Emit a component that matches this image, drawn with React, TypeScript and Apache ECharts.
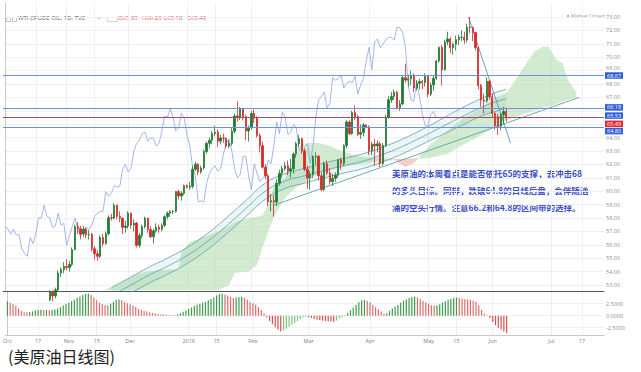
import React, { useEffect, useRef } from "react";
import * as echarts from "echarts";

// Daily bars, index 0 = 2 Oct 2017 ... index 179 = 8 Jun 2018 : [open, high, low, close]
const candles: number[][] = [
  [51.67, 51.9, 50.3, 50.58], [50.58, 50.9, 50.0, 50.42], [50.42, 50.6, 49.6, 49.98], [49.98, 51.0, 49.8, 50.79],
  [50.79, 50.9, 49.1, 49.29], [49.29, 49.8, 49.1, 49.58], [49.58, 51.0, 49.5, 50.92], [50.92, 51.6, 50.8, 51.3],
  [51.3, 51.4, 50.4, 50.6], [50.6, 51.6, 50.5, 51.45], [51.45, 52.2, 51.3, 51.87], [51.87, 52.1, 51.5, 51.88],
  [51.88, 52.3, 51.6, 52.04], [52.04, 52.1, 51.0, 51.29], [51.29, 52.0, 51.1, 51.84], [51.84, 52.1, 51.6, 51.9],
  [51.9, 52.6, 51.8, 52.47], [52.47, 52.6, 51.8, 52.18], [52.18, 52.8, 52.0, 52.64], [52.64, 54.1, 52.5, 53.9],
  [53.9, 54.3, 53.6, 54.15], [54.15, 54.7, 53.9, 54.38], [54.38, 54.9, 54.1, 54.3], [54.3, 54.8, 54.0, 54.54],
  [54.54, 55.8, 54.4, 55.64], [55.64, 57.5, 55.6, 57.35], [57.35, 57.7, 56.8, 57.2], [57.2, 57.4, 56.4, 56.81],
  [56.81, 57.4, 56.6, 57.17], [57.17, 57.3, 56.5, 56.74], [56.74, 57.1, 56.4, 56.76], [56.76, 56.9, 55.5, 55.7],
  [55.7, 55.9, 54.9, 55.33], [55.33, 55.6, 54.8, 55.14], [55.14, 56.7, 55.0, 56.55], [56.55, 56.8, 55.9, 56.09],
  [56.09, 57.0, 56.0, 56.83], [56.83, 58.2, 56.7, 58.02], [58.02, 58.3, 57.8, 58.0], [58.0, 59.1, 57.9, 58.95],
  [58.95, 59.0, 57.9, 58.11], [58.11, 58.5, 57.7, 57.99], [57.99, 58.0, 56.8, 57.3], [57.3, 57.8, 56.9, 57.4],
  [57.4, 58.5, 57.2, 58.36], [58.36, 58.4, 57.2, 57.47], [57.47, 57.9, 57.0, 57.62], [57.62, 57.7, 55.8, 55.96],
  [55.96, 56.9, 55.8, 56.69], [56.69, 57.5, 56.5, 57.36], [57.36, 58.1, 57.2, 57.99], [57.99, 58.0, 56.9, 57.14],
  [57.14, 57.4, 56.5, 56.6], [56.6, 57.2, 56.1, 57.04], [57.04, 57.6, 56.9, 57.3], [57.3, 57.5, 56.9, 57.16],
  [57.16, 57.6, 57.0, 57.46], [57.46, 58.2, 57.3, 58.09], [58.09, 58.5, 57.9, 58.36], [58.36, 58.6, 58.1, 58.47],
  [58.47, 58.6, 58.3, 58.5], [58.5, 60.0, 58.4, 59.97], [59.97, 60.1, 59.4, 59.64], [59.64, 60.0, 59.3, 59.84],
  [59.84, 60.5, 59.7, 60.42], [60.42, 60.5, 60.2, 60.3], [60.3, 60.7, 60.1, 60.37], [60.37, 61.9, 60.2, 61.63],
  [61.63, 62.2, 61.5, 62.01], [62.01, 62.1, 61.2, 61.44], [61.44, 61.9, 61.3, 61.73], [61.73, 63.1, 61.6, 62.96],
  [62.96, 63.7, 62.8, 63.57], [63.57, 64.0, 63.2, 63.8], [63.8, 64.5, 63.5, 64.3], [64.3, 64.9, 64.1, 64.4],
  [64.4, 64.6, 63.3, 63.73], [63.73, 64.2, 63.5, 63.97], [63.97, 64.3, 63.6, 63.95], [63.95, 64.0, 63.2, 63.37],
  [63.37, 63.8, 63.2, 63.57], [63.57, 64.7, 63.4, 64.47], [64.47, 65.8, 64.3, 65.61], [65.61, 66.7, 65.2, 65.51],
  [65.51, 66.3, 65.3, 66.14], [66.14, 66.2, 65.3, 65.56], [65.56, 65.7, 63.8, 64.5], [64.5, 64.9, 63.7, 64.73],
  [64.73, 66.0, 64.6, 65.8], [65.8, 66.1, 65.1, 65.45], [65.45, 65.6, 64.0, 64.15], [64.15, 64.3, 62.9, 63.39],
  [63.39, 63.7, 61.7, 61.79], [61.79, 62.0, 60.9, 61.15], [61.15, 61.3, 58.9, 59.2], [59.2, 59.8, 58.5, 59.29],
  [59.29, 59.7, 58.1, 59.19], [59.19, 60.9, 58.9, 60.6], [60.6, 61.6, 60.4, 61.34], [61.34, 61.9, 61.0, 61.68],
  [61.68, 62.2, 61.5, 61.9], [61.9, 62.3, 61.2, 61.5], [61.5, 62.4, 61.0, 61.68], [61.68, 62.9, 61.3, 62.77],
  [62.77, 63.7, 62.5, 63.55], [63.55, 64.2, 63.3, 63.91], [63.91, 64.0, 62.8, 63.01], [63.01, 63.2, 61.5, 61.64],
  [61.64, 61.9, 60.2, 60.99], [60.99, 61.5, 60.1, 61.25], [61.25, 62.7, 61.0, 62.57], [62.57, 62.9, 62.0, 62.6],
  [62.6, 62.7, 60.8, 61.15], [61.15, 61.4, 60.0, 60.12], [60.12, 62.2, 60.0, 62.04], [62.04, 62.3, 61.2, 61.36],
  [61.36, 61.7, 60.5, 60.71], [60.71, 61.3, 60.4, 60.96], [60.96, 61.4, 60.7, 61.19], [61.19, 62.4, 61.0, 62.34],
  [62.34, 62.5, 61.6, 62.06], [62.06, 63.5, 61.9, 63.4], [63.4, 65.3, 63.2, 65.17], [65.17, 65.3, 64.2, 64.3],
  [64.3, 66.0, 64.2, 65.88], [65.88, 66.4, 65.3, 65.55], [65.55, 65.7, 64.1, 64.25], [64.25, 65.0, 63.9, 64.38],
  [64.38, 65.1, 64.1, 64.94], [64.94, 65.0, 64.7, 64.8], [64.8, 64.9, 62.7, 63.01], [63.01, 63.7, 62.7, 63.51],
  [63.51, 63.9, 61.9, 63.37], [63.37, 63.8, 62.9, 63.54], [63.54, 63.7, 61.8, 62.06], [62.06, 63.6, 61.9, 63.42],
  [63.42, 65.7, 63.3, 65.51], [65.51, 67.1, 65.4, 66.82], [66.82, 67.4, 66.6, 67.07], [67.07, 67.6, 66.8, 67.39],
  [67.39, 67.5, 66.1, 66.22], [66.22, 66.8, 66.0, 66.52], [66.52, 68.6, 66.4, 68.47], [68.47, 69.5, 68.1, 68.29],
  [68.29, 68.7, 67.8, 68.38], [68.38, 69.0, 67.9, 68.64], [68.64, 68.8, 67.4, 67.7], [67.7, 68.3, 67.5, 68.05],
  [68.05, 68.4, 67.6, 68.19], [68.19, 68.3, 67.6, 68.1], [68.1, 68.8, 67.8, 68.57], [68.57, 68.6, 67.0, 67.25],
  [67.25, 68.1, 67.1, 67.93], [67.93, 68.6, 67.5, 68.43], [68.43, 69.8, 68.3, 69.72], [69.72, 70.8, 69.6, 70.73],
  [70.73, 70.9, 67.9, 69.06], [69.06, 71.3, 69.0, 71.14], [71.14, 71.9, 70.9, 71.36], [71.36, 71.5, 70.3, 70.7],
  [70.7, 71.1, 70.2, 70.96], [70.96, 71.6, 70.5, 71.31], [71.31, 71.7, 70.9, 71.49], [71.49, 72.0, 71.2, 71.49],
  [71.49, 71.9, 71.0, 71.28], [71.28, 72.5, 71.1, 72.24], [72.24, 73.0, 71.8, 72.2], [72.2, 72.3, 71.2, 71.84],
  [71.84, 71.9, 70.5, 70.71], [70.71, 70.8, 67.6, 67.88], [67.88, 68.0, 66.3, 66.8], [66.8, 67.3, 65.8, 66.73],
  [66.73, 68.5, 66.6, 68.21], [68.21, 68.3, 66.8, 67.04], [67.04, 67.3, 65.5, 65.81], [65.81, 65.9, 64.6, 64.9],
  [65.55, 65.75, 64.2, 64.85], [64.85, 65.85, 64.55, 65.7], [65.7, 66.3, 65.0, 65.95], [65.95, 66.2, 65.18, 65.49],
];

// MACD histogram, one value per bar
const macdHist: number[] = [
  3.0, 2.7, 2.4, 2.0, 1.5, 1.0, 0.75, 0.7, 0.75, 0.9,
  1.1, 1.2, 1.25, 1.2, 1.2, 1.15, 1.2, 1.3, 1.5, 1.8,
  2.1, 2.4, 2.7, 3.0, 3.3, 3.7, 4.0, 4.3, 4.5, 4.6,
  4.3, 3.8, 3.2, 2.7, 2.4, 2.2, 2.15, 2.5, 2.9, 3.3,
  3.4, 3.2, 2.9, 2.6, 2.4, 2.1, 1.8, 1.4, 1.2, 1.0,
  0.9, 0.7, 0.55, 0.45, 0.35, 0.3, 0.25, 0.2, 0.15, 0.1,
  0.12, 0.3, 0.5, 0.8, 1.1, 1.4, 1.7, 2.0, 2.3, 2.5,
  2.7, 2.9, 3.2, 3.5, 3.8, 4.2, 4.5, 4.6, 4.4, 4.2,
  3.9, 3.7, 3.8, 3.9, 3.95, 3.7, 3.3, 2.9, 2.6, 2.3,
  1.8, 1.2, 0.5, -0.3, -1.1, -1.8, -2.4, -2.9, -3.3, -3.1,
  -2.7, -2.3, -1.9, -1.5, -1.1, -0.7, -0.4, -0.2, -0.3, -0.5,
  -0.7, -0.8, -0.9, -1.0, -1.1, -1.15, -1.2, -1.25, -1.0, -0.6,
  -0.3, 0.1, 0.6, 1.1, 1.7, 2.3, 2.8, 3.2, 3.3, 3.1,
  2.8, 2.3, 1.8, 1.3, 0.9, 0.4, 0.5, 1.0, 1.5, 1.9,
  2.3, 2.7, 3.1, 3.4, 3.7, 3.9, 4.0, 3.8, 3.5, 3.1,
  2.8, 2.5, 2.2, 2.15, 2.2, 2.4, 2.7, 3.0, 3.3, 3.5,
  3.7, 3.8, 3.7, 3.6, 3.5, 3.4, 3.3, 3.1, 2.9, 2.2,
  1.2, 0.4, 0.1, -0.5, -1.3, -2.0, -2.5, -2.9, -3.3, -3.6,
];

const xLabelIdx = [0, 11, 22, 32, 44, 65, 75, 88, 108, 130, 151, 161, 174, 195, 206];
const xLabelText = ["Oct", "17", "Nov", "15", "Dec", "2018", "15", "Feb", "Mar", "Apr", "May", "15", "Jun", "Jul", "17"];
const priceTicks = [53, 54, 55, 56, 57, 58, 59, 60, 61, 62, 63, 64, 65, 66, 67, 68, 69, 70, 71, 72, 73];
// 65.00 and 66.00 are covered by the price boxes in the reference
const priceLabels = [53, 54, 55, 56, 57, 58, 59, 60, 61, 62, 63, 64, 67, 68, 69, 70, 71, 72, 73];
const macdTicks = [-2.5, 0, 2.5];

// moving-average ribbon (read at sample bars)
const ribbonIdx = [38, 45, 52, 58, 65, 72, 79, 86, 93, 100, 107, 114, 121, 128, 135, 142, 149, 156, 163, 170, 175, 179];
const ribbonUpper = [52.8, 53.6, 54.4, 55.0, 55.8, 56.8, 58.0, 59.3, 60.6, 61.3, 61.7, 62.1, 62.45, 62.8, 63.3, 63.9, 64.6, 65.4, 66.2, 66.9, 67.35, 67.6];
const ribbonMid = [52.2, 53.0, 53.8, 54.4, 55.2, 56.2, 57.4, 58.7, 60.0, 60.75, 61.15, 61.55, 61.9, 62.25, 62.75, 63.35, 64.05, 64.8, 65.55, 66.25, 66.65, 66.9];
const ribbonLower = [51.6, 52.4, 53.2, 53.8, 54.6, 55.6, 56.8, 58.1, 59.4, 60.2, 60.6, 61.0, 61.35, 61.7, 62.2, 62.8, 63.5, 64.2, 64.9, 65.6, 65.95, 66.2];

// Ichimoku cloud (bullish part), read at sample bars
const cloudIdx = [35, 40, 48, 55, 62, 63, 66, 70, 76, 80, 82, 87, 90, 92, 94, 96, 100, 104, 108, 112, 116, 120, 126, 132, 138, 140];
const cloudTop = [52.6, 53.0, 53.9, 54.1, 54.2, 55.5, 56.2, 56.5, 57.0, 57.4, 57.7, 58.0, 58.1, 58.2, 59.0, 60.3, 61.0, 62.8, 63.6, 63.6, 63.4, 63.0, 62.6, 62.5, 62.4, 62.4];
const cloudBottom = [52.6, 52.6, 52.6, 52.6, 52.6, 52.6, 52.6, 52.6, 52.6, 53.0, 53.9, 54.0, 54.5, 55.8, 57.0, 58.1, 59.5, 60.3, 60.8, 61.3, 61.6, 61.8, 62.0, 62.2, 62.3, 62.4];
const cloud2Idx = [148, 152, 158, 164, 170, 175, 179, 183, 186, 189, 192, 194, 197, 199, 201, 204];
const cloud2Top = [62.6, 63.5, 64.5, 65.5, 66.2, 67.0, 67.3, 68.5, 69.5, 70.4, 70.8, 70.8, 69.8, 69.6, 68.3, 67.4];
const cloud2Bottom = [62.4, 62.5, 62.8, 63.5, 64.2, 64.8, 65.3, 65.6, 65.8, 66.0, 66.2, 66.3, 66.5, 66.7, 66.8, 67.0];
// bearish twist
const pinkIdx = [139, 143, 146, 148];
const pinkTop = [62.4, 62.4, 62.45, 62.5];
const pinkBottom = [62.35, 61.8, 62.1, 62.5];

const trendUp = [[96, 58.95], [205, 67.0]];
const trendDown = [[165.5, 73.0], [180.5, 63.6]];
const lagShift = 25;

const levels = [
  { v: 68.67, line: "#6f8fe0", box: "#2f5fd6", dy: 0.5, dash: "solid" },
  { v: 66.18, line: "#6f8fe0", box: "#2f5fd6", dy: -1, dash: "solid" },
  { v: 65.53, line: "#7a5a9a", box: "#2f5fd6", dy: -1.5, dash: "solid" },
  { v: 65.49, line: "#d23a3a", box: "#e5262b", dy: 6.2, dash: "dotted" },
  { v: 64.8, line: "#6f8fe0", box: "#2f5fd6", dy: 4.2, dash: "solid" },
];

const noteLines = [
  "美原油的本周看点是能否依托65的支撑，去冲击68",
  "的多头目标。同样，跌破64.8的日线后盘，会伴随汹",
  "涌的空头行情。注意66.2和64.8的区间带的选择。",
];

const band = (idx: number[], up: number[], lo: number[], fill: string, z: number) => ({
  type: "custom",
  xAxisIndex: 0,
  yAxisIndex: 0,
  clip: true,
  silent: true,
  z,
  data: [[idx[0], up[0]]],
  renderItem: (_p: any, api: any) => {
    const pts: number[][] = [];
    for (let k = 0; k < idx.length; k++) pts.push(api.coord([idx[k], up[k]]));
    for (let k = idx.length - 1; k >= 0; k--) pts.push(api.coord([idx[k], lo[k]]));
    return { type: "polygon", shape: { points: pts }, style: { fill } };
  },
});

const line = (pts: number[][], color: string, width: number, z: number, smooth = false) => ({
  type: "line",
  xAxisIndex: 0,
  yAxisIndex: 0,
  data: pts,
  showSymbol: false,
  smooth,
  silent: true,
  z,
  lineStyle: { color, width },
});

export default function App() {
  const ref = useRef<HTMLDivElement>(null);
  useEffect(() => {
    const chart = echarts.init(ref.current!, undefined, { renderer: "svg" });
    const fontFamily = "'Open Sans', 'Liberation Sans', sans-serif";
    const xMin = -0.71;
    const xMax = 213.9;
    const labelMap: Record<number, string> = {};
    xLabelIdx.forEach((v, k) => (labelMap[v] = xLabelText[k]));

    const candleData = candles.map((c, i) => [i, c[0], c[3], c[2], c[1]]);
    const lagData = candles.slice(lagShift).map((c, k) => [k, c[3]]);
    const macdData = macdHist.map((v, i) => {
      const prev = i > 0 ? macdHist[i - 1] : v;
      const rising = v >= prev;
      let color;
      if (v >= 0) color = rising ? "#3f9a4c" : "#e06b6b";
      else color = rising ? "#79c27f" : "#dd4d4d";
      return { value: [i, v], itemStyle: { color } };
    });

    const option: any = {
      animation: false,
      backgroundColor: "#ffffff",
      textStyle: { fontFamily },
      grid: [
        { left: 3, right: 37, top: 3, height: 288 },
        { left: 3, right: 37, top: 291, height: 44 },
      ],
      xAxis: [
        {
          type: "value", gridIndex: 0, min: xMin, max: xMax,
          axisLine: { show: true, onZero: false, lineStyle: { color: "#555", width: 1 } },
          axisTick: { show: false, customValues: xLabelIdx },
          axisLabel: { show: false },
          splitLine: { show: true, lineStyle: { color: "#eef0f4", width: 1 } },
        },
        {
          type: "value", gridIndex: 1, min: xMin, max: xMax,
          axisLine: { show: true, onZero: false, lineStyle: { color: "#c9c9c9" } },
          axisTick: { show: false, customValues: xLabelIdx },
          axisLabel: {
            show: true, customValues: xLabelIdx, fontSize: 5.5, color: "#7d7d7d", margin: 3,
            formatter: (v: number) => labelMap[v] ?? "",
          },
          splitLine: { show: true, lineStyle: { color: "#eef0f4", width: 1 } },
        },
      ],
      yAxis: [
        {
          type: "value", gridIndex: 0, position: "right", min: 52.552, max: 74.045, scale: true,
          axisLine: { show: true, lineStyle: { color: "#c9c9c9" } },
          axisTick: { show: false, customValues: priceTicks },
          axisLabel: {
            show: true, customValues: priceLabels, fontSize: 5.5, color: "#8a8a8a", margin: 2,
            formatter: (v: number) => (v === 69 ? "{up|69.00}" : v.toFixed(2)),
            rich: { up: { fontSize: 5.5, color: "#8a8a8a", padding: [0, 0, 5, 0] } },
          },
          splitLine: { show: true, lineStyle: { color: "#eef0f4", width: 1 } },
        },
        {
          type: "value", gridIndex: 1, position: "right", min: -4.02, max: 5.146,
          axisLine: { show: true, lineStyle: { color: "#c9c9c9" } },
          axisTick: { show: false, customValues: macdTicks },
          axisLabel: {
            show: true, customValues: macdTicks, fontSize: 5.5, color: "#8a8a8a", margin: 2,
            formatter: (v: number) => v.toFixed(4),
          },
          splitLine: { show: true, lineStyle: { color: "#eef0f4", width: 1 } },
        },
      ],
      series: [
        band(cloudIdx, cloudTop, cloudBottom, "rgba(180,222,176,0.6)", 1),
        band(cloud2Idx, cloud2Top, cloud2Bottom, "rgba(180,222,176,0.6)", 1),
        band(pinkIdx, pinkTop, pinkBottom, "rgba(244,184,176,0.7)", 1),
        band(ribbonIdx, ribbonUpper, ribbonLower, "rgba(110,185,185,0.12)", 1),
        line(ribbonIdx.map((x, k) => [x, ribbonUpper[k]]), "#5f9fa8", 0.8, 2, true),
        line(ribbonIdx.map((x, k) => [x, ribbonMid[k]]), "#5f9fa8", 0.8, 2, true),
        line(ribbonIdx.map((x, k) => [x, ribbonLower[k]]), "#5f9fa8", 0.8, 2, true),
        line(trendUp, "#5aa3ad", 0.9, 2),
        line(trendDown, "#5a94bd", 0.9, 2),
        line(lagData, "#8aa6e6", 0.8, 2),
        {
          type: "candlestick",
          xAxisIndex: 0,
          yAxisIndex: 0,
          data: candleData,
          encode: { x: 0, y: [1, 2, 3, 4] },
          barWidth: 1.8,
          clip: true,
          z: 4,
          itemStyle: {
            color: "#217a33", color0: "#d62a2a",
            borderColor: "#217a33", borderColor0: "#d62a2a", borderWidth: 0.8,
          },
          markLine: {
            silent: true,
            symbol: ["none", "none"],
            animation: false,
            data: levels.map((l) => ({
              yAxis: l.v,
              lineStyle: { color: l.line, width: 1, type: l.dash },
              label: {
                show: true, position: "end", distance: 1, formatter: l.v.toFixed(2),
                color: "#ffffff", backgroundColor: l.box, padding: [0.5, 2, 0, 2],
                fontSize: 5.5, lineHeight: 6, offset: [0, l.dy], fontFamily,
              },
            })),
          },
        },
        {
          type: "bar",
          xAxisIndex: 1,
          yAxisIndex: 1,
          data: macdData,
          barWidth: 1.2,
          silent: true,
        },
      ],
      graphic: [
        { type: "rect", left: 4, top: 15, shape: { width: 4, height: 4 }, style: { fill: "none", stroke: "#9a9a9a", lineWidth: 0.6 } },
        { type: "rect", left: 10, top: 15, shape: { width: 4, height: 4 }, style: { fill: "none", stroke: "#9a9a9a", lineWidth: 0.6 } },
        { type: "text", left: 18, top: 14.5, style: { text: "WTI CRUDE OIL, 1D, TVC", fontSize: 6, fill: "#555", fontFamily } },
        { type: "text", left: 97, top: 14.5, style: { text: "~", fontSize: 6, fill: "#999", fontFamily } },
        { type: "rect", left: 105, top: 15, shape: { width: 10, height: 4 }, style: { fill: "none", stroke: "#bbb", lineWidth: 0.6 } },
        { type: "text", left: 118, top: 14.5, style: { text: "O65.95", fontSize: 6, fill: "#e04848", fontFamily } },
        { type: "text", left: 142, top: 14.5, style: { text: "H66.20", fontSize: 6, fill: "#e04848", fontFamily } },
        { type: "text", left: 164, top: 14.5, style: { text: "L65.18", fontSize: 6, fill: "#e04848", fontFamily } },
        { type: "text", left: 187, top: 14.5, style: { text: "C65.49", fontSize: 6, fill: "#e04848", fontFamily } },
        { type: "circle", shape: { cx: 568, cy: 16, r: 1 }, style: { fill: "#999" } },
        { type: "text", left: 571, top: 13.5, style: { text: "Market Closed", fontSize: 5, fill: "#999", fontFamily } },
        ...noteLines.map((t, k) => ({
          type: "text", left: 392, top: 169 + k * 17,
          style: { text: t, fontSize: 8.5, fontWeight: "bold", fill: "#3e4fc6", fontFamily: "'Noto Sans CJK SC', sans-serif" },
        })),
        {
          type: "text", left: 8, top: 348,
          style: { text: "(美原油日线图)", fontSize: 16, fill: "#222", fontFamily: "'Noto Sans CJK SC', sans-serif" },
        },
      ],
    };
    chart.setOption(option);
    return () => chart.dispose();
  }, []);
  return (
    <div
      ref={ref}
      style={{ position: "fixed", left: 0, top: 0, width: 641, height: 372, background: "#fff" }}
    />
  );
}
